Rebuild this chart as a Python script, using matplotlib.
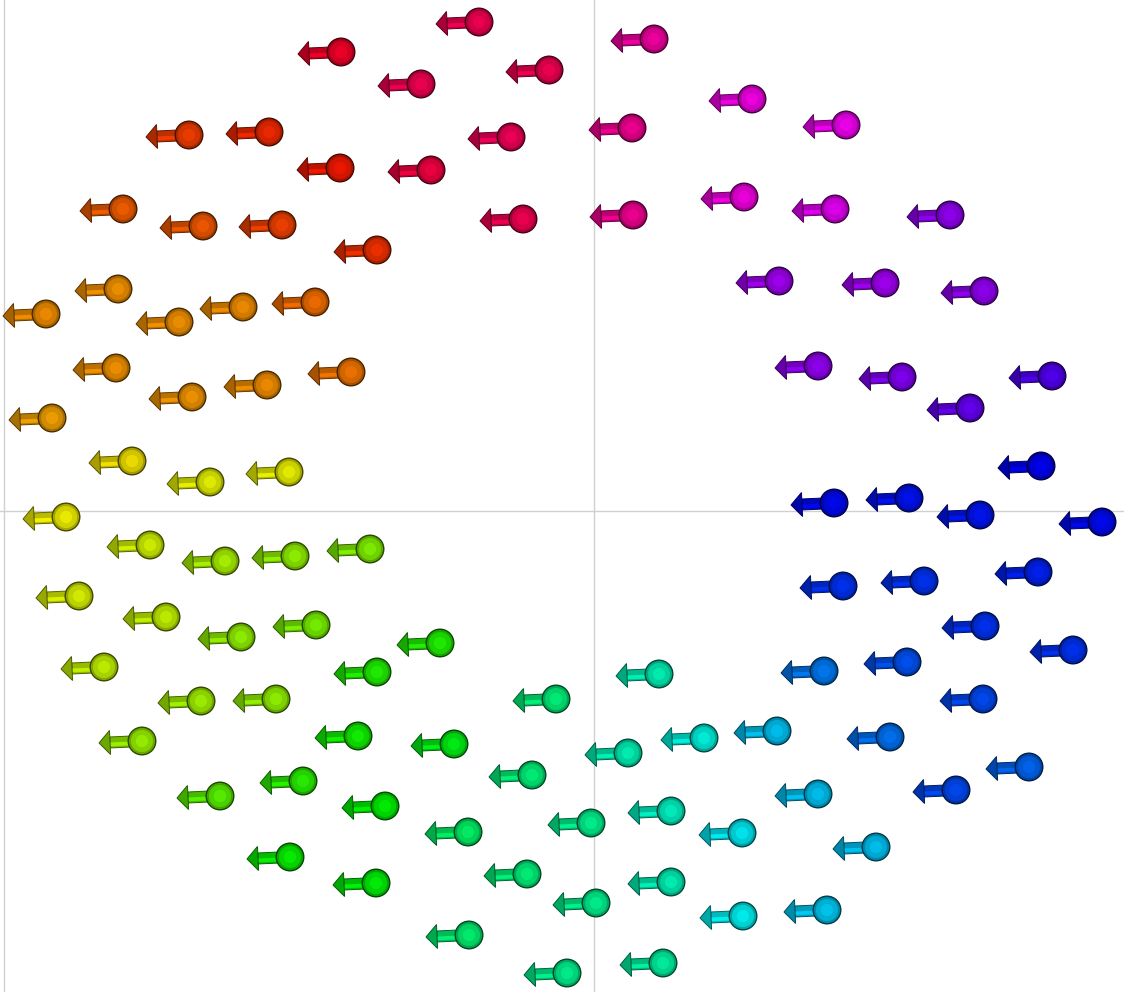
import numpy as np
import matplotlib
matplotlib.use("Agg")
import matplotlib.pyplot as plt
from matplotlib.patches import Circle, Polygon
from matplotlib.colors import hsv_to_rgb

# glyph positions (sphere centres)
x_pos = [
    -2.53, -4.05, -3.25, -2.54, -4.71, -3.91, -3.12, -2.17, -4.76, -5.48,
    -4.15, -3.51, -2.79, -4.78, -4.02, -3.27, -2.43, -5.42, -4.62, -3.84, -3.05,
    -1.15, 0.60, -1.73, -0.45, -0.83, 0.38, 1.58, -1.63, -0.71, 0.39, 1.50,
    2.52, 2.41, 3.56, 1.85, 2.91, 3.90, 2.24, 3.08, 4.58, 3.76, 4.47,
    2.40, 3.15, 3.86, 5.08, 2.49, 3.30, 4.44, 3.91, 4.79, 2.30, 3.13, 3.89,
    1.83, 2.96, 4.35, 3.62, 2.24, 2.82, 2.33,
    -5.28, -4.44, -3.69, -2.99, -2.24, -5.15, -4.28, -3.53, -2.78, -2.17,
    -4.90, -3.93, -3.18, -4.52, -2.36, -2.91, -3.74, -2.09, -3.04, -2.18,
    -1.54, 0.65, -0.38, -1.40, 0.34, 1.10, -0.62, -0.03, 0.77, 1.48,
    -1.26, -0.67, 0.77, 0.02, 1.49, -1.25, -0.27, 0.69,
]
y_pos = [
    4.59, 3.76, 3.79, 3.43, 3.02, 2.85, 2.86, 2.61, 2.22, 1.97,
    1.89, 2.04, 2.09, 1.43, 1.14, 1.26, 1.39, 0.93, 0.50, 0.29, 0.39,
    4.89, 4.72, 4.27, 4.41, 3.74, 3.83, 4.12, 3.41, 2.92, 2.96, 3.14,
    3.86, 3.02, 2.96, 2.30, 2.28, 2.20, 1.45, 1.34, 1.35, 1.03, 0.45,
    0.08, 0.13, -0.04, -0.11, -0.75, -0.70, -0.61, -1.15, -1.39, -1.60, -1.51, -1.88,
    -2.20, -2.26, -2.56, -2.79, -2.83, -3.36, -3.99,
    -0.06, -0.34, -0.50, -0.45, -0.38, -0.85, -1.06, -1.26, -1.14, -1.61,
    -1.56, -1.90, -1.88, -2.30, -2.25, -2.70, -2.85, -2.95, -3.46, -3.72,
    -1.32, -1.63, -1.88, -2.33, -2.42, -2.27, -2.64, -3.12, -3.00, -3.22,
    -3.21, -3.63, -3.71, -3.92, -4.05, -4.24, -4.62, -4.52,
]
# colour value of each glyph (hue, degrees)
hue_deg = [
    350, 15, 10, 6, 23, 22, 16, 12, 36, 35,
    36, 35, 27, 36, 37, 35, 29, 40, 56, 63, 62,
    340, 320, 340, 340, 338, 324, 303, 344, 340, 324, 304,
    300, 296, 276, 280, 280, 276, 276, 272, 260, 265, 240,
    238, 236, 235, 238, 228, 228, 232, 228, 228, 210, 220, 222,
    192, 212, 215, 222, 192, 192, 190,
    60, 68, 78, 84, 88, 66, 72, 84, 90, 112,
    72, 80, 84, 82, 116, 110, 98, 120, 118, 122,
    112, 165, 150, 125, 165, 175, 150, 155, 168, 182,
    145, 150, 165, 155, 180, 148, 155, 160,
]
# every glyph carries the same vector
u_vec, v_vec = -0.43, -0.02

fig = plt.figure(figsize=(11.24, 9.92), dpi=100)
ax = fig.add_axes([0, 0, 1, 1])
ax.set_xlim(-5.94, 5.30)
ax.set_ylim(-4.81, 5.11)
ax.set_aspect("equal")
ax.axis("off")

ax.axhline(0, color="#d0d0d0", lw=1, zorder=0)
ax.axvline(0, color="#d0d0d0", lw=1, zorder=0)
ax.axvline(-5.90, color="#d0d0d0", lw=1, zorder=0)

L = np.hypot(u_vec, v_vec)
d = np.array([u_vec, v_vec]) / L
n = np.array([-d[1], d[0]])
r = 0.138
hw, hh, hb = 0.055, 0.12, 0.32

colors = [hsv_to_rgb([(h % 360) / 360.0, 1.0, 0.94]) for h in hue_deg]

for xi, yi, base in zip(x_pos, y_pos, colors):
    c = np.array([xi, yi])
    tip = c + d * L
    b = c + d * hb
    shaft = [c + n * hw, b + n * hw, b - n * hw, c - n * hw]
    head = [b + n * hh, tip, b - n * hh]
    ax.add_patch(Polygon(shaft, closed=True, fc=base * 0.78, ec=base * 0.42, lw=0.7, zorder=2))
    top = [c + n * hw * 0.7, b + n * hw * 0.7, b + n * hw * 0.0, c + n * hw * 0.0]
    ax.add_patch(Polygon(top, closed=True, fc=base, ec="none", zorder=2.1))
    ax.add_patch(Polygon(head, closed=True, fc=base * 0.7, ec=base * 0.38, lw=0.7, zorder=2.2))

for xi, yi, base in zip(x_pos, y_pos, colors):
    ax.add_patch(Circle((xi, yi), r, fc=base * 0.7, ec=base * 0.3, lw=1.0, zorder=3))
    ax.add_patch(Circle((xi, yi), r * 0.8, fc=base * 0.87, ec="none", zorder=3.1))
    ax.add_patch(Circle((xi, yi), r * 0.45, fc=base * 0.97, ec="none", zorder=3.2))

fig.savefig("out.png", dpi=100)
